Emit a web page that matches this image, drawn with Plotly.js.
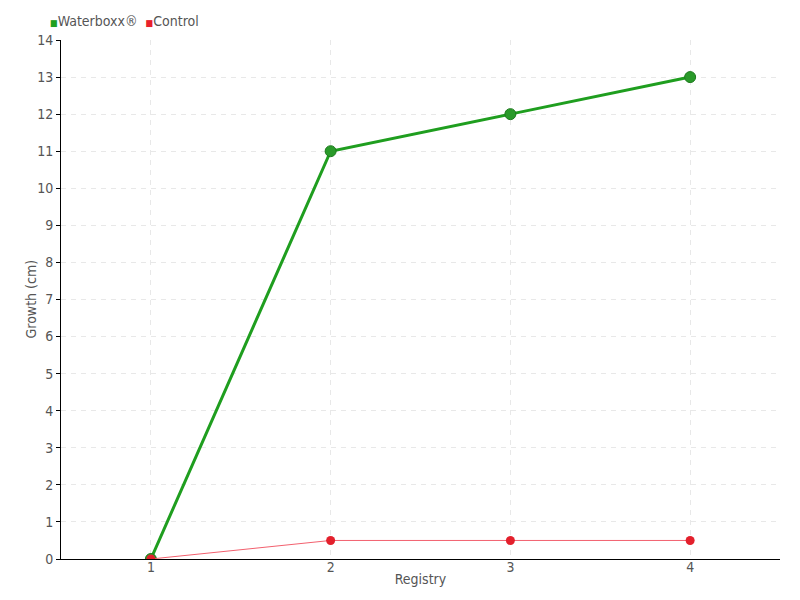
<!DOCTYPE html>
<html><head><meta charset="utf-8">
<script src="https://cdn.plot.ly/plotly-3.0.1.min.js"></script>
<style>body{margin:0;}#chart{width:800px;height:600px;}</style>
</head><body><div id="chart"></div>
<script>
const registry = [1, 2, 3, 4];
const waterboxx = [0, 11, 12, 13];
const control = [0, 0.5, 0.5, 0.5];
const yTicks = [0,1,2,3,4,5,6,7,8,9,10,11,12,13,14];
const seriesNames = ['Waterboxx®', 'Control'];
const seriesColors = ['#1fa01f', '#e8202c'];
const yTitle = 'Growth (cm)';

const fontFam = '"DejaVu Sans Condensed", "Liberation Sans Narrow", sans-serif';
const traces = [
  {x: registry, y: waterboxx, mode: 'lines+markers', name: seriesNames[0], showlegend: false,
   line: {color: '#1f9e1f', width: 3}, marker: {color: '#2a9a2a', size: 11, line: {color: '#1d7a1d', width: 1}}},
  {x: registry, y: control, mode: 'lines+markers', name: seriesNames[1], showlegend: false,
   line: {color: '#f2606e', width: 1}, marker: {color: '#e3202c', size: 9}}
];
const legendText = seriesNames.map((n, i) =>
  '<span style="color:' + seriesColors[i] + ';font-size:9px">■</span>' + n).join('  ');
const layout = {
  width: 800, height: 600,
  margin: {l: 61, r: 20, t: 40, b: 41},
  paper_bgcolor: '#fff', plot_bgcolor: '#fff',
  font: {family: fontFam, size: 14, color: '#555'},
  showlegend: false,
  annotations: [
    {text: legendText, xref: 'paper', yref: 'paper', x: 0, y: 1, xshift: -13, yshift: 19,
     xanchor: 'left', yanchor: 'middle', showarrow: false, font: {size: 14, color: '#555'}},
    {text: yTitle, xref: 'paper', yref: 'paper', x: 0, y: 0.5, xshift: -31, textangle: -90,
     xanchor: 'center', yanchor: 'middle', showarrow: false, font: {size: 14, color: '#555'}}
  ],
  xaxis: {range: [0.5, 4.5], tickvals: registry, ticktext: registry.map(String),
    showline: true, linecolor: '#000', linewidth: 1, ticks: '', ticklabelstandoff: -5,
    showgrid: true, gridcolor: '#e8e8e8', griddash: '5px,5px', zeroline: false,
    title: {text: 'Registry', font: {size: 14, color: '#555'}, standoff: 0},
    tickfont: {size: 14, color: '#555'}},
  yaxis: {range: [0, 14], tickvals: yTicks,
    showline: true, linecolor: '#000', linewidth: 1, ticks: 'outside', ticklen: 4, tickcolor: '#000',
    showgrid: true, gridcolor: '#e8e8e8', griddash: '5px,5px', zeroline: false,
    tickfont: {size: 14, color: '#555'}}
};
Plotly.newPlot('chart', traces, layout, {displayModeBar: false});
</script></body></html>
